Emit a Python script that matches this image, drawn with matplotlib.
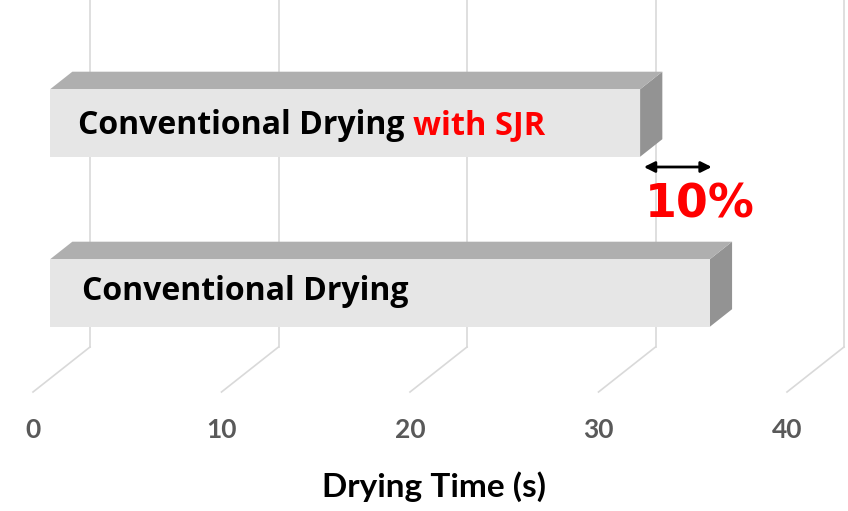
import matplotlib
matplotlib.use("Agg")
import matplotlib.pyplot as plt
from matplotlib.patches import Polygon
from matplotlib.transforms import Affine2D

# drying times (s)
categories = ["Conventional Drying", "Conventional Drying"]
highlight = ["", "with SJR"]
drying_time = [35.0, 31.3]
reduction_label = "10%"
ticks = [0, 10, 20, 30, 40]
xlabel = "Drying Time (s)"

# pseudo-3D layout (pixels at 100 dpi)
W, H = 848, 511
PX_PER_UNIT = 18.85
X0 = 33            # value 0 on the front floor edge
FLOOR_Y = 392
DEPTH_DX, DEPTH_DY = 57, 45
BAR_FRONT, BAR_BACK = 0.3, 0.69
BAR_H = 67.5
ROW_STEP = 170
ROW0 = 306.5
LABEL_X = [2.6, 2.4]
LABEL_DY = [6.5, 11.5]   # baseline below bar centre

FRONT = "#e6e6e6"
TOP = "#afafaf"
SIDE = "#939393"
GRID = "#d9d9d9"

label_font = ["Open Sans", "DejaVu Sans"]
axis_font = ["Lato", "DejaVu Sans"]

fig = plt.figure(figsize=(W / 100, H / 100), dpi=100)
ax = fig.add_axes([0, 0, 1, 1])
ax.set_xlim(-X0 / PX_PER_UNIT, (W - X0) / PX_PER_UNIT)
ax.set_ylim(H, 0)
ax.axis("off")
inv = ax.transData.inverted()


def at_depth(d):
    # shift back into the chart by depth d (display pixels, y up)
    return ax.transData + Affine2D().translate(DEPTH_DX * d, DEPTH_DY * d)


def project(d, xy):
    tr = at_depth(d)
    return [inv.transform(tr.transform(p)) for p in xy]


# floor diagonals, back-wall gridlines and tick labels
for t in ticks:
    (p0, p1) = project(0, [(t, FLOOR_Y)]) + project(1, [(t, FLOOR_Y)])
    ax.plot([p0[0], p1[0]], [p0[1], p1[1]], color=GRID, lw=1.2, zorder=1)
    ax.plot([t, t], [FLOOR_Y, 0], color=GRID, lw=1.2, zorder=1,
            transform=at_depth(1))
    ax.text(t, 438, str(t), ha="center", va="baseline", fontsize=19,
            fontweight="bold", color="#595959", family=axis_font)

# bars: side face, top face, front face
for i, (cat, hl, v) in enumerate(zip(categories, highlight, drying_time)):
    yc = ROW0 - ROW_STEP * i
    top, bot = yc - BAR_H / 2, yc + BAR_H / 2
    front = project(BAR_FRONT, [(0, top), (v, top), (v, bot), (0, bot)])
    top_face = (project(BAR_FRONT, [(0, top), (v, top)])
                + project(BAR_BACK, [(v, top), (0, top)]))
    side = (project(BAR_FRONT, [(v, top), (v, bot)])
            + project(BAR_BACK, [(v, bot), (v, top)]))
    ax.add_patch(Polygon(side, closed=True, fc=SIDE, ec="none", zorder=3))
    ax.add_patch(Polygon(top_face, closed=True, fc=TOP, ec="none", zorder=3))
    ax.add_patch(Polygon(front, closed=True, fc=FRONT, ec="none", zorder=4))

    ty = project(BAR_FRONT, [(0, yc)])[0][1] + LABEL_DY[i]
    t1 = ax.text(LABEL_X[i], ty, cat + (" " if hl else ""), ha="left",
                 va="baseline", fontsize=23, fontweight="bold",
                 color="black", family=label_font, zorder=5)
    if hl:
        ax.annotate(hl, xycoords=t1, xy=(1, 0), va="bottom", ha="left",
                    fontsize=23.5, fontweight="bold", color="#ff0000",
                    family=label_font, zorder=5)

# arrow marking the saving between the two bars
a0 = project(BAR_FRONT, [(drying_time[1], 0)])[0][0]
a1 = project(BAR_FRONT, [(drying_time[0], 0)])[0][0]
ax.annotate("", xy=(a0 + 0.2, 167), xytext=(a1 + 0.1, 167),
            arrowprops=dict(arrowstyle="<|-|>", color="black", lw=2,
                            mutation_scale=16, shrinkA=0, shrinkB=0))
ax.text((a0 + a1) / 2 + 1.3, 218, reduction_label, ha="center",
        va="baseline", fontsize=33, fontweight="bold", color="#ff0000")

ax.text(21.25, 497, xlabel, ha="center", va="baseline", fontsize=24,
        fontweight="bold", color="black", family=axis_font)

fig.savefig("out.png", dpi=100)
